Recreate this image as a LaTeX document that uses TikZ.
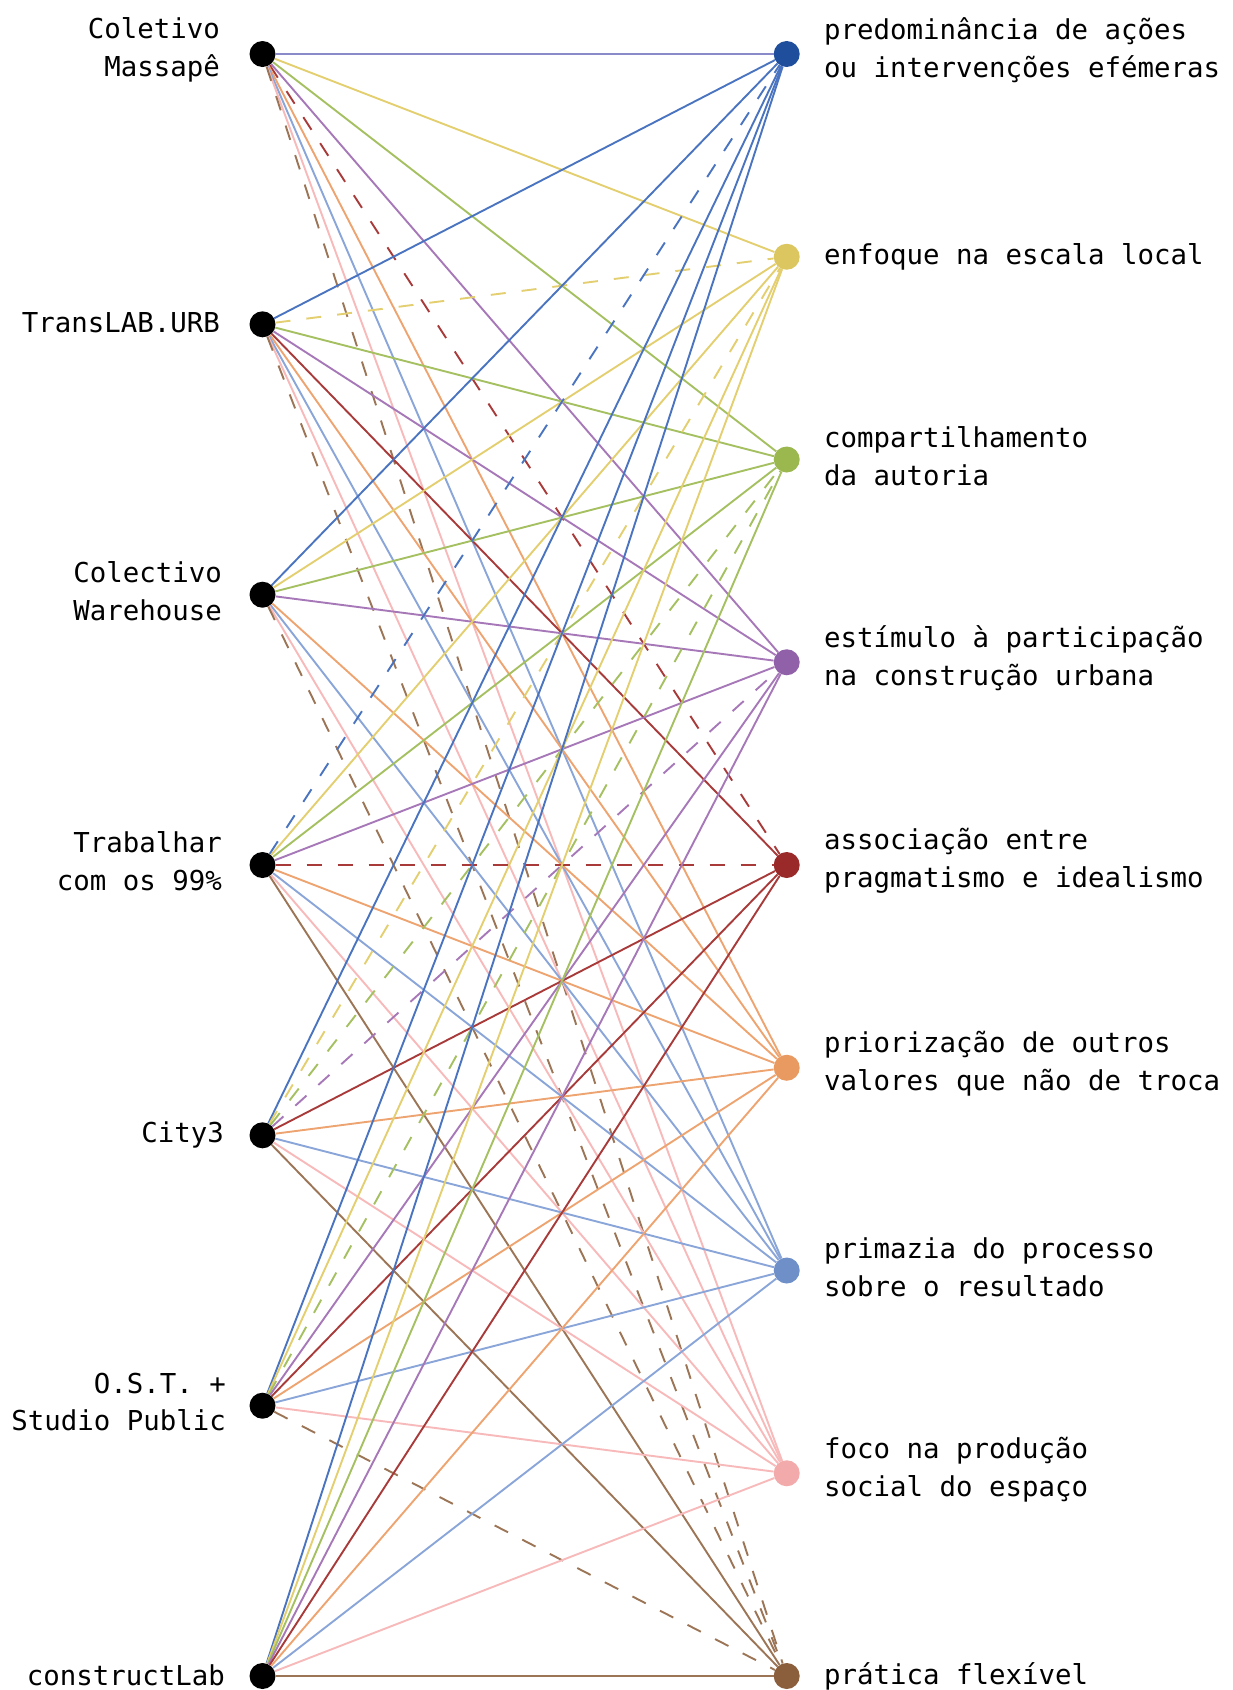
\documentclass[tikz,border=0pt]{standalone}
\usepackage{fontspec}
\setmonofont{DejaVu Sans Mono}
\definecolor{nA}{HTML}{1F4E9C}\definecolor{eA}{HTML}{4A74C0}
\definecolor{nB}{HTML}{DCC660}\definecolor{eB}{HTML}{E3CF70}
\definecolor{nC}{HTML}{9BB84E}\definecolor{eC}{HTML}{A5C060}
\definecolor{nD}{HTML}{9060A8}\definecolor{eD}{HTML}{A678B8}
\definecolor{nE}{HTML}{9A2A2A}\definecolor{eE}{HTML}{A83A3A}
\definecolor{nF}{HTML}{E89A60}\definecolor{eF}{HTML}{EEA470}
\definecolor{nG}{HTML}{6F8FC8}\definecolor{eG}{HTML}{8AA5D8}
\definecolor{nH}{HTML}{F2AAAA}\definecolor{eH}{HTML}{F7B9B9}
\definecolor{nI}{HTML}{8B5E3C}\definecolor{eI}{HTML}{9B7556}
\definecolor{lav}{HTML}{8A8AC8}
\begin{document}
\begin{tikzpicture}[x=1pt,y=-1pt,
  dot/.style={circle,inner sep=0pt,minimum size=26pt},
  lbl/.style={font=\ttfamily\fontsize{27.4}{37.7}\selectfont,inner sep=0pt},
  edgesolid/.style={line width=1.9pt},
  edgedash/.style={line width=1.9pt,dash pattern=on 15pt off 16pt},
  c1/.style={draw=eA},c2/.style={draw=eB},c3/.style={draw=eC},
  c4/.style={draw=eD},c5/.style={draw=eE},c6/.style={draw=eF},
  c7/.style={draw=eG},c8/.style={draw=eH},c9/.style={draw=eI}]
\useasboundingbox (0,0) rectangle (1233,1690);
% left nodes
\foreach \i/\y in {1/54,2/324.3,3/594.7,4/865,5/1135.3,6/1405.7,7/1676}
  \node[dot,fill=black] (L\i) at (262.5,\y) {};
% right nodes
\foreach \i/\y/\c in {1/54/nA,2/256.75/nB,3/459.5/nC,4/662.25/nD,5/865/nE,6/1067.75/nF,7/1270.5/nG,8/1473.25/nH,9/1676/nI}
  \node[dot,fill=\c] (R\i) at (786.7,\y) {};
% edges
\draw[line width=2.6pt,draw=lav] (L1) -- (R1);
\foreach \l/\r/\s in {
  1/2/edgesolid,1/3/edgesolid,1/4/edgesolid,1/5/edgedash,1/6/edgesolid,1/7/edgesolid,1/8/edgesolid,1/9/edgedash,
  2/1/edgesolid,2/2/edgedash,2/3/edgesolid,2/4/edgesolid,2/5/edgesolid,2/6/edgesolid,2/7/edgesolid,2/8/edgesolid,2/9/edgedash,
  3/1/edgesolid,3/2/edgesolid,3/3/edgesolid,3/4/edgesolid,3/6/edgesolid,3/7/edgesolid,3/8/edgesolid,3/9/edgedash,
  4/1/edgedash,4/2/edgesolid,4/3/edgesolid,4/4/edgesolid,4/5/edgedash,4/6/edgesolid,4/7/edgesolid,4/8/edgesolid,4/9/edgesolid,
  5/1/edgesolid,5/2/edgedash,5/3/edgedash,5/4/edgedash,5/5/edgesolid,5/6/edgesolid,5/7/edgesolid,5/8/edgesolid,5/9/edgesolid,
  6/1/edgesolid,6/2/edgesolid,6/3/edgedash,6/4/edgesolid,6/5/edgesolid,6/6/edgesolid,6/7/edgesolid,6/8/edgesolid,6/9/edgedash,
  7/1/edgesolid,7/2/edgesolid,7/3/edgesolid,7/4/edgesolid,7/5/edgesolid,7/6/edgesolid,7/7/edgesolid,7/8/edgesolid,7/9/edgesolid}
  \draw[\s,c\r] (L\l) -- (R\r);
% left labels
\node[lbl,align=right,anchor=east] (tL1) at (220,50) {Coletivo\\Massapê};
\node[lbl,align=right,anchor=east] (tL2) at (220,323) {TransLAB.URB};
\node[lbl,align=right,anchor=east] (tL3) at (222,591) {Colectivo\\Warehouse};
\node[lbl,align=right,anchor=east] (tL4) at (222,861) {Trabalhar\\com os 99\%};
\node[lbl,align=right,anchor=east] (tL5) at (224,1135.3) {City3};
\node[lbl,align=right,anchor=east] (tL6) at (226,1402) {O.S.T. +\\Studio Public};
\node[lbl,align=right,anchor=east] (tL7) at (225,1675) {constructLab};
% right labels
\node[lbl,align=left,anchor=west] (tR1) at (824,50) {predominância de ações\\ou intervenções efémeras};
\node[lbl,align=left,anchor=west] (tR2) at (824,256.75) {enfoque na escala local};
\node[lbl,align=left,anchor=west] (tR3) at (824,456) {compartilhamento\\da autoria};
\node[lbl,align=left,anchor=west] (tR4) at (824,658.5) {estímulo à participação\\na construção urbana};
\node[lbl,align=left,anchor=west] (tR5) at (824,861) {associação entre\\pragmatismo e idealismo};
\node[lbl,align=left,anchor=west] (tR6) at (824,1064) {priorização de outros\\valores que não de troca};
\node[lbl,align=left,anchor=west] (tR7) at (824,1267) {primazia do processo\\sobre o resultado};
\node[lbl,align=left,anchor=west] (tR8) at (824,1469.5) {foco na produção\\social do espaço};
\node[lbl,align=left,anchor=west] (tR9) at (824,1676) {prática flexível};
\end{tikzpicture}
\end{document}
